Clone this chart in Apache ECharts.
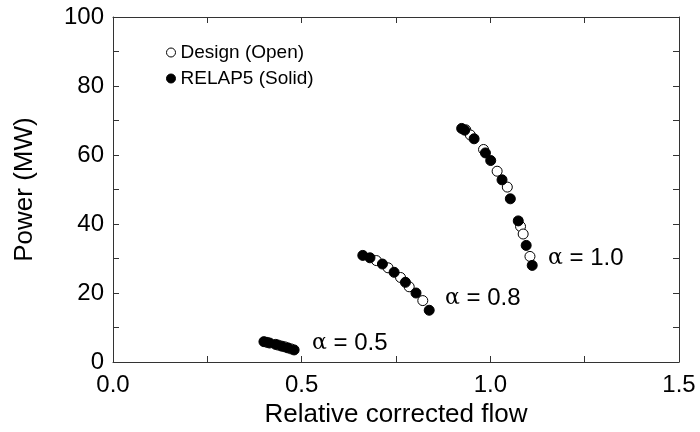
<!DOCTYPE html>
<html>
<head>
<meta charset="utf-8">
<script src="https://cdn.jsdelivr.net/npm/echarts@6/dist/echarts.min.js"></script>
<style>
    html, body { margin: 0; padding: 0; background: #fff; }
    #chart { width: 700px; height: 432px; }
</style>
</head>
<body>
<div id="chart"></div>
<script>
// Design (open circles), [relative corrected flow, power MW]
const designA05 = [[0.408, 5.7], [0.438, 4.9], [0.455, 4.4], [0.472, 3.8]]
const designA08 = [[0.698, 29.4], [0.729, 27.3], [0.762, 24.5], [0.785, 21.8], [0.821, 17.8]]
const designA10 = [[0.935, 67.3], [0.947, 65.8], [0.982, 61.6], [1.018, 55.3], [1.045, 50.7], [1.080, 39.3], [1.087, 37.1], [1.105, 30.6]]

// RELAP5 (solid circles)
const relapA05 = [[0.400, 5.9], [0.415, 5.5], [0.431, 5.1], [0.447, 4.6], [0.463, 4.1], [0.480, 3.5]]
const relapA08 = [[0.662, 30.9], [0.681, 30.2], [0.714, 28.4], [0.745, 26.0], [0.775, 23.1], [0.803, 20.0], [0.838, 15.0]]
const relapA10 = [[0.924, 67.7], [0.932, 67.2], [0.957, 64.7], [0.987, 60.6], [1.001, 58.4], [1.031, 52.8], [1.053, 47.3], [1.074, 40.9], [1.095, 33.8], [1.111, 28.0]]

const xTicks = [0.0, 0.5, 1.0, 1.5]
const yTicks = [0, 20, 40, 60, 80, 100]

const font = 'Liberation Sans'
const axisColor = '#333'

const myChart = echarts.init(document.getElementById('chart'), null, { renderer: 'canvas' })

const openStyle = { color: '#fff', borderColor: '#000', borderWidth: 1, opacity: 1 }
const solidStyle = { color: '#000', borderColor: '#000', borderWidth: 1, opacity: 1 }

const frameAxis = (extra) => Object.assign({
    axisLine: { show: true, onZero: false, lineStyle: { color: axisColor, width: 1 } },
    axisTick: { show: true, inside: true, length: 6, lineStyle: { color: axisColor } },
    minorTick: { show: true, splitNumber: 2, length: 6, lineStyle: { color: axisColor } },
    splitLine: { show: false },
    minorSplitLine: { show: false }
}, extra)

const alphaLabel = (x, y, txt) => ({
    type: 'text', x: x, y: y,
    style: {
        text: '{a|α} = ' + txt, verticalAlign: 'middle',
        rich: { a: { fontFamily: 'DejaVu Serif', fontSize: 22 } },
        fontFamily: font, fontSize: 24, fill: '#000'
    }
})

const option = {
    animation: false,
    backgroundColor: '#fff',
    textStyle: { fontFamily: font },
    grid: { left: 113, right: 21, top: 17, bottom: 70, containLabel: false, outerBoundsMode: 'none' },
    legend: {
        left: 161,
        top: 38,
        orient: 'vertical',
        itemGap: 7,
        itemWidth: 9,
        itemHeight: 9,
        textStyle: { fontFamily: font, fontSize: 19, color: '#000' },
        data: [
            { name: 'Design (Open)', icon: 'circle', itemStyle: openStyle },
            { name: 'RELAP5 (Solid)', icon: 'circle', itemStyle: solidStyle }
        ]
    },
    xAxis: [
        frameAxis({
            type: 'value', min: xTicks[0], max: xTicks[xTicks.length - 1], interval: 0.5,
            name: 'Relative corrected flow', nameLocation: 'middle', nameGap: 40,
            nameTextStyle: { fontFamily: font, fontSize: 26, color: '#000' },
            axisLabel: { fontFamily: font, fontSize: 24, color: '#000', margin: 11, formatter: v => v.toFixed(1) }
        }),
        frameAxis({
            type: 'value', position: 'top', min: xTicks[0], max: xTicks[xTicks.length - 1], interval: 0.5,
            axisLabel: { show: false }
        })
    ],
    yAxis: [
        frameAxis({
            type: 'value', min: yTicks[0], max: yTicks[yTicks.length - 1], interval: 20,
            name: 'Power (MW)', nameLocation: 'middle', nameGap: 75, nameRotate: 90,
            nameTextStyle: { fontFamily: font, fontSize: 26, color: '#000' },
            axisLabel: { fontFamily: font, fontSize: 24, color: '#000', margin: 9 }
        }),
        frameAxis({
            type: 'value', position: 'right', min: yTicks[0], max: yTicks[yTicks.length - 1], interval: 20,
            axisLabel: { show: false }
        })
    ],
    graphic: [
        alphaLabel(312, 343, '0.5'),
        alphaLabel(445, 298, '0.8'),
        alphaLabel(548, 258, '1.0')
    ],
    series: [
        { name: 'Design (Open)', type: 'scatter', symbolSize: 10, z: 2, itemStyle: openStyle, data: designA05.concat(designA08, designA10) },
        { name: 'RELAP5 (Solid)', type: 'scatter', symbolSize: 10, z: 3, itemStyle: solidStyle, data: relapA05.concat(relapA08, relapA10) }
    ]
}

myChart.setOption(option)
window.addEventListener('resize', () => myChart.resize())
</script>
</body>
</html>
